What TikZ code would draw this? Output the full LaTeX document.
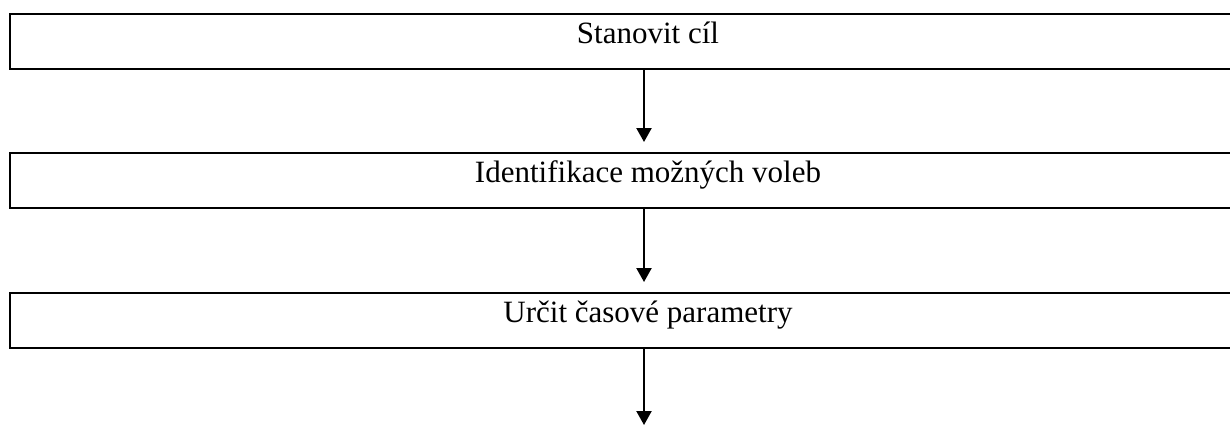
\documentclass[tikz,border=0pt]{standalone}
\usepackage{fontspec}
\setmainfont{Liberation Serif}
\usetikzlibrary{arrows.meta}
\begin{document}
\begin{tikzpicture}[x=1pt,y=-1pt,
  stepbox/.style={draw=black,line width=2.3pt,minimum width=1276pt,minimum height=55pt,
    inner sep=0pt,outer sep=0pt,anchor=north west,text height=20pt,text depth=17pt,
    font=\fontsize{31}{36}\selectfont},
  flow/.style={line width=2.2pt,-{Triangle[width=15pt,length=14pt]}}]
\useasboundingbox (0,0) rectangle (1230,426);
\clip (0,0) rectangle (1230,426);
\node[stepbox] (b1) at (10,14) {Stanovit cíl};
\node[stepbox] (b2) at (10,153) {Identifikace možných voleb};
\node[stepbox] (b3) at (10,293) {Určit časové parametry};
\coordinate (a1s) at (644,69);
\coordinate (a1e) at (644,142);
\coordinate (a2s) at (644,209);
\coordinate (a2e) at (644,282);
\coordinate (a3s) at (644,349);
\coordinate (a3e) at (644,425);
\draw[flow] (b1.south -| a1s) -- (a1e);
\draw[flow] (b2.south -| a2s) -- (a2e);
\draw[flow] (b3.south -| a3s) -- (a3e);
\end{tikzpicture}
\end{document}
